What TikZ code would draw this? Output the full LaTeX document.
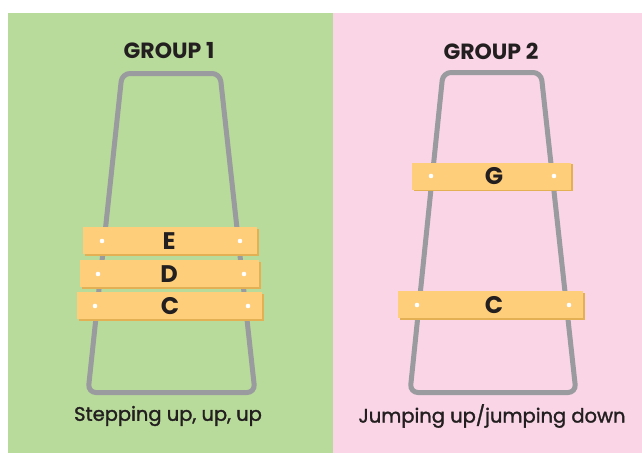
\documentclass[tikz,border=0pt]{standalone}
\usepackage{fontspec}
\setmainfont{Poppins}
\usetikzlibrary{shadows}
\definecolor{greenbg}{HTML}{B8DA9A}
\definecolor{pinkbg}{HTML}{F9D5E5}
\definecolor{framegray}{HTML}{9A9B9F}
\definecolor{barfill}{HTML}{FFCE7A}
\definecolor{barshadow}{HTML}{E3B053}
\definecolor{ink}{HTML}{231F20}
\tikzset{
  frame/.style={draw=framegray, line width=5pt, rounded corners=8pt},
  bar/.style={fill=barfill, minimum height=27pt, inner sep=0pt,
    general shadow={fill=barshadow, shadow xshift=1.5pt, shadow yshift=-1.5pt}},
  letter/.style={font=\fontsize{24}{24}\selectfont\bfseries, text=ink},
  title/.style={font=\fontsize{22}{22}\selectfont\bfseries, text=ink},
  caption/.style={font=\fontsize{19.5}{19.5}\selectfont\addfontfeature{FakeBold=1.5}, text=ink},
  dot/.style={fill=white}
}
\begin{document}
\begin{tikzpicture}[x=1pt, y=-1pt]
\useasboundingbox (0,0) rectangle (642,453);
\fill[white] (0,0) rectangle (642,453);
\fill[greenbg] (8,13) rectangle (333,453);
\fill[pinkbg] (333,13) rectangle (642,453);
% titles
\node[title] (t1) at (169,51) {GROUP 1};
\node[title] (t2) at (491,51) {GROUP 2};
% frames
\draw[frame] (122,73.5) -- (220,73.5) -- (255,392.5) -- (88,392.5) -- cycle;
\draw[frame] (443,72.5) -- (541,72.5) -- (576,392.5) -- (410,392.5) -- cycle;
% group 1 bars
\node[bar, minimum width=174pt] (barE) at (170,240.5) {};
\node[bar, minimum width=179pt] (barD) at (169.5,273.5) {};
\node[bar, minimum width=185pt] (barC) at (169.5,305.5) {};
\node[letter] (lE) at (169,241) {E};
\node[letter] (lD) at (169,274) {D};
\node[letter] (lC) at (170,306) {C};
\fill[dot] (102,241) circle (2.3);
\fill[dot] (240,241) circle (2.3);
\fill[dot] (98,274) circle (2.3);
\fill[dot] (244,274) circle (2.3);
\fill[dot] (95,306) circle (2.3);
\fill[dot] (248,306) circle (2.3);
% group 2 bars
\node[bar, minimum width=159pt] (barG) at (491.5,176) {};
\node[bar, minimum width=185pt] (barC2) at (490.5,304.5) {};
\node[letter] (lG) at (494,176) {G};
\node[letter] (lC2) at (494,305) {C};
\fill[dot] (431,176) circle (2.3);
\fill[dot] (554,176) circle (2.3);
\fill[dot] (417,305) circle (2.3);
\fill[dot] (569,305) circle (2.3);
% captions
\node[caption] (c1) at (168,416) {Stepping up, up, up};
\node[caption] (c2) at (492,416) {Jumping up/jumping down};
\end{tikzpicture}
\end{document}
